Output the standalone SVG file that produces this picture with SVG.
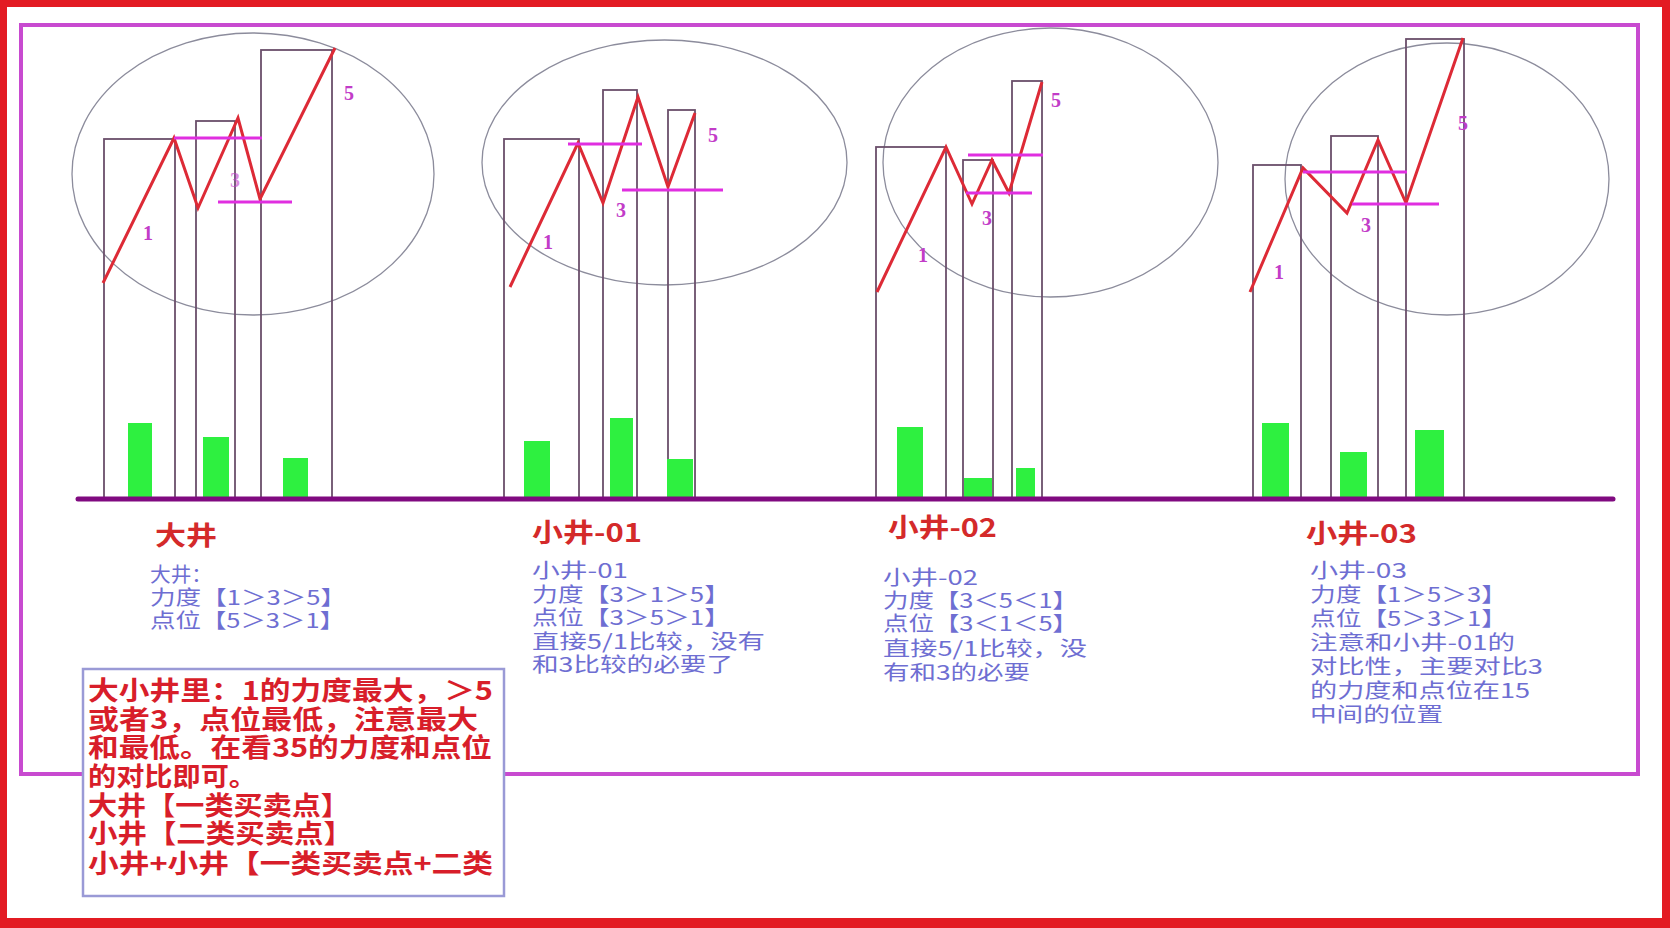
<svg xmlns="http://www.w3.org/2000/svg" width="1670" height="928" viewBox="0 0 1670 928">
<style>
.ell{fill:none;stroke:#8c8c9c;stroke-width:1.3}
.bx{fill:none;stroke:#6b4f6b;stroke-width:1.8}
.bar{fill:#2ef040}
.zz{fill:none;stroke:#dd2a36;stroke-width:3;stroke-linejoin:miter}
.mg{stroke:#e02ee0;stroke-width:3}
.lb{font-family:"Liberation Serif","Noto Sans CJK SC",serif;font-weight:bold;font-size:20px;fill:#c23cc8;text-anchor:middle}
.tt{font-family:"Noto Sans CJK SC","Noto Sans CJK JP",sans-serif;font-weight:bold;font-size:26px;fill:#d42a2a}
.bl{font-family:"Noto Sans CJK SC","Noto Sans CJK JP",sans-serif;font-size:20px;fill:#6e6ed2}
.rd{font-family:"Noto Sans CJK SC","Noto Sans CJK JP",sans-serif;font-weight:bold;font-size:26px;fill:#d81e2a}
</style>
<rect x="0" y="0" width="1670" height="928" fill="#ffffff"/>
<path d="M0 0H1670V928H0Z M7 7V918H1662V7Z" fill="#e31b23" fill-rule="evenodd"/>
<rect id="frame" x="21" y="25" width="1617" height="749" fill="none" stroke="#c84ad0" stroke-width="4"/>

<g id="panel-dajing">
<ellipse class="ell" cx="253" cy="174" rx="181" ry="141"/>
<rect class="bx" x="104" y="139" width="71" height="360"/>
<rect class="bx" x="196" y="121" width="39" height="378"/>
<rect class="bx" x="261" y="50" width="71" height="449"/>
<rect class="bar" x="128" y="423" width="24" height="74"/>
<rect class="bar" x="203" y="437" width="26" height="60"/>
<rect class="bar" x="283" y="458" width="25" height="39"/>
<polyline class="zz" points="103,283 174,138 198,208 238,118 260,199 335,48"/>
<line class="mg" x1="174" y1="138" x2="262" y2="138"/>
<line class="mg" x1="218" y1="202" x2="292" y2="202"/>
<text class="lb" x="148" y="240">1</text>
<text class="lb" x="235" y="187" fill-opacity="0.6">3</text>
<text class="lb" x="349" y="100">5</text>
<text class="tt" x="155" y="545" textLength="62" lengthAdjust="spacingAndGlyphs">大井</text>
<text class="bl" x="150" y="582" textLength="62" lengthAdjust="spacingAndGlyphs">大井：</text>
<text class="bl" x="150" y="605" textLength="196" lengthAdjust="spacingAndGlyphs">力度【1＞3＞5】</text>
<text class="bl" x="150" y="628" textLength="195" lengthAdjust="spacingAndGlyphs">点位【5＞3＞1】</text>
</g>

<g id="panel-xiaojing-01">
<ellipse class="ell" cx="664.5" cy="162.5" rx="182.5" ry="122.5"/>
<rect class="bx" x="504" y="139" width="75" height="360"/>
<rect class="bx" x="603" y="90" width="34" height="409"/>
<rect class="bx" x="668" y="110" width="27" height="389"/>
<rect class="bar" x="524" y="441" width="26" height="56"/>
<rect class="bar" x="610" y="418" width="23" height="79"/>
<rect class="bar" x="667" y="459" width="26" height="38"/>
<polyline class="zz" points="510,287 578,143 603,203 638,97 668,187 695,113"/>
<line class="mg" x1="568" y1="144" x2="642" y2="144"/>
<line class="mg" x1="622" y1="190" x2="723" y2="190"/>
<text class="lb" x="548" y="249">1</text>
<text class="lb" x="621" y="217">3</text>
<text class="lb" x="713" y="142">5</text>
<text class="tt" x="532" y="542" textLength="110" lengthAdjust="spacingAndGlyphs">小井-01</text>
<text class="bl" x="532" y="578" textLength="96" lengthAdjust="spacingAndGlyphs">小井-01</text>
<text class="bl" x="532" y="602" textLength="198" lengthAdjust="spacingAndGlyphs">力度【3＞1＞5】</text>
<text class="bl" x="532" y="625" textLength="198" lengthAdjust="spacingAndGlyphs">点位【3＞5＞1】</text>
<text class="bl" x="532" y="649" textLength="233" lengthAdjust="spacingAndGlyphs">直接5/1比较，没有</text>
<text class="bl" x="532" y="672" textLength="201" lengthAdjust="spacingAndGlyphs">和3比较的必要了</text>
</g>

<g id="panel-xiaojing-02">
<ellipse class="ell" cx="1050.5" cy="162.5" rx="167.5" ry="134.5"/>
<rect class="bx" x="876" y="147" width="70" height="352"/>
<rect class="bx" x="963" y="160" width="30" height="339"/>
<rect class="bx" x="1012" y="81" width="30" height="418"/>
<rect class="bar" x="897" y="427" width="26" height="70"/>
<rect class="bar" x="964" y="478" width="28" height="19"/>
<rect class="bar" x="1016" y="468" width="19" height="29"/>
<polyline class="zz" points="877,292 946,147 972,204 992,160 1009,193 1042,82"/>
<line class="mg" x1="968" y1="155" x2="1043" y2="155"/>
<line class="mg" x1="966" y1="193" x2="1032" y2="193"/>
<text class="lb" x="923" y="262">1</text>
<text class="lb" x="987" y="225">3</text>
<text class="lb" x="1056" y="107">5</text>
<text class="tt" x="888" y="537" textLength="109" lengthAdjust="spacingAndGlyphs">小井-02</text>
<text class="bl" x="883" y="585" textLength="95" lengthAdjust="spacingAndGlyphs">小井-02</text>
<text class="bl" x="883" y="608" textLength="195" lengthAdjust="spacingAndGlyphs">力度【3＜5＜1】</text>
<text class="bl" x="883" y="631" textLength="195" lengthAdjust="spacingAndGlyphs">点位【3＜1＜5】</text>
<text class="bl" x="883" y="656" textLength="204" lengthAdjust="spacingAndGlyphs">直接5/1比较，没</text>
<text class="bl" x="883" y="680" textLength="147" lengthAdjust="spacingAndGlyphs">有和3的必要</text>
</g>

<g id="panel-xiaojing-03">
<ellipse class="ell" cx="1447" cy="179" rx="162" ry="136"/>
<rect class="bx" x="1253" y="165" width="48" height="334"/>
<rect class="bx" x="1331" y="136" width="47" height="363"/>
<rect class="bx" x="1406" y="39" width="58" height="460"/>
<rect class="bar" x="1262" y="423" width="27" height="74"/>
<rect class="bar" x="1340" y="452" width="27" height="45"/>
<rect class="bar" x="1415" y="430" width="29" height="67"/>
<polyline class="zz" points="1250,292 1303,168 1347,213 1378,140 1406,203 1463,38"/>
<line class="mg" x1="1303" y1="172" x2="1407" y2="172"/>
<line class="mg" x1="1352" y1="204" x2="1439" y2="204"/>
<text class="lb" x="1279" y="279">1</text>
<text class="lb" x="1366" y="232">3</text>
<text class="lb" x="1463" y="130">5</text>
<text class="tt" x="1306" y="543" textLength="111" lengthAdjust="spacingAndGlyphs">小井-03</text>
<text class="bl" x="1310" y="578" textLength="97" lengthAdjust="spacingAndGlyphs">小井-03</text>
<text class="bl" x="1310" y="602" textLength="197" lengthAdjust="spacingAndGlyphs">力度【1＞5＞3】</text>
<text class="bl" x="1310" y="626" textLength="197" lengthAdjust="spacingAndGlyphs">点位【5＞3＞1】</text>
<text class="bl" x="1310" y="650" textLength="205" lengthAdjust="spacingAndGlyphs">注意和小井-01的</text>
<text class="bl" x="1310" y="674" textLength="233" lengthAdjust="spacingAndGlyphs">对比性，主要对比3</text>
<text class="bl" x="1310" y="698" textLength="220" lengthAdjust="spacingAndGlyphs">的力度和点位在15</text>
<text class="bl" x="1310" y="722" textLength="133" lengthAdjust="spacingAndGlyphs">中间的位置</text>
</g>

<g id="connectors">
<line x1="78" y1="499" x2="1613" y2="499" stroke="#800a80" stroke-width="5" stroke-linecap="round"/>
</g>

<g id="note-box">
<rect x="83" y="669" width="421" height="227" fill="#ffffff" stroke="#9a9ad6" stroke-width="2.5"/>
<text class="rd" x="88" y="700" textLength="405" lengthAdjust="spacingAndGlyphs">大小井里：1的力度最大，＞5</text>
<text class="rd" x="88" y="729" textLength="390" lengthAdjust="spacingAndGlyphs">或者3，点位最低，注意最大</text>
<text class="rd" x="88" y="757" textLength="404" lengthAdjust="spacingAndGlyphs">和最低。在看35的力度和点位</text>
<text class="rd" x="88" y="786" textLength="169" lengthAdjust="spacingAndGlyphs">的对比即可。</text>
<text class="rd" x="88" y="815" textLength="262" lengthAdjust="spacingAndGlyphs">大井【一类买卖点】</text>
<text class="rd" x="88" y="843" textLength="265" lengthAdjust="spacingAndGlyphs">小井【二类买卖点】</text>
<text class="rd" x="88" y="873" textLength="405" lengthAdjust="spacingAndGlyphs">小井+小井【一类买卖点+二类</text>
</g>
</svg>
